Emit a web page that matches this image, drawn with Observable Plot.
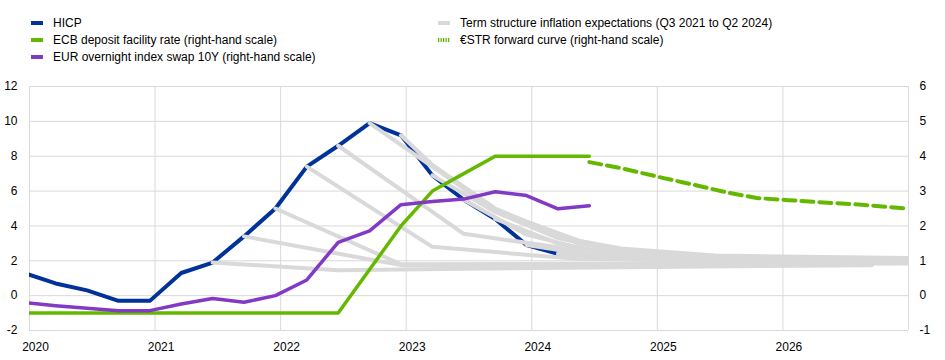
<!DOCTYPE html>
<html>
<head>
<meta charset="utf-8">
<script src="https://cdn.jsdelivr.net/npm/d3@7"></script>
<script src="https://cdn.jsdelivr.net/npm/@observablehq/plot@0.6"></script>
<style>
  html, body { margin: 0; padding: 0; background: #fff; }
  #chart { width: 945px; height: 360px; position: relative; font-family: "Liberation Sans", Arial, sans-serif; }
  #legend { position: relative; height: 70px; font-size: 12px; color: #000; }
  .item { position: absolute; height: 16px; line-height: 16px; white-space: nowrap; }
  .sw { position: absolute; left: 0; top: 6px; width: 12px; height: 4px; }
  .lbl { position: absolute; left: 22px; top: 0; }
  svg { display: block; }
</style>
</head>
<body>
<div id="chart">
  <div id="legend"></div>
</div>
<script>
// ---- data (months as "YYYY-MM", plotted at mid-month) ----
const quarters = ["2019-12","2020-03","2020-06","2020-09","2020-12","2021-03","2021-06","2021-09","2021-12",
  "2022-03","2022-06","2022-09","2022-12","2023-03","2023-06","2023-09","2023-12","2024-03","2024-06"];
const hicp = [1.3, 0.7, 0.3, -0.3, -0.3, 1.3, 1.9, 3.4, 5.0, 7.4, 8.6, 9.9, 9.2, 6.9, 5.5, 4.4, 2.9, 2.4];
const dfr = [-0.5, -0.5, -0.5, -0.5, -0.5, -0.5, -0.5, -0.5, -0.5, -0.5, -0.5, 0.75, 2.0, 3.0, 3.5, 4.0, 4.0, 4.0, 4.0];
const ois10y = [-0.2, -0.29, -0.36, -0.43, -0.43, -0.24, -0.08, -0.19, 0.0, 0.45, 1.53, 1.86, 2.61, 2.70, 2.77, 2.98, 2.87, 2.49, 2.58];

const estrMonths = ["2024-06","2024-09","2025-01","2025-04","2025-07","2025-10","2026-01","2026-04","2026-08","2026-12"];
const estrFwd = [3.83, 3.66, 3.38, 3.18, 2.97, 2.80, 2.74, 2.68, 2.61, 2.51];

// term structure inflation expectations, one small array per survey round
const tQ3_2021 = [["2021-06",1.9],["2022-06",1.45],["2023-06",1.55],["2026-09",1.75]];
const tQ4_2021 = [["2021-09",3.4],["2022-12",1.75],["2027-01",1.85]];
const tQ1_2022 = [["2021-12",5.0],["2022-12",1.8],["2027-01",1.9]];
const tQ2_2022 = [["2022-03",7.4],["2023-03",2.8],["2024-05",2.1],["2027-01",2.0]];
const tQ3_2022 = [["2022-06",8.6],["2023-06",3.55],["2024-05",2.6],["2025-06",2.2],["2027-01",2.1]];
const tQ4_2022 = [["2022-09",9.9],["2023-09",4.9],["2024-05",3.15],["2024-09",2.7],["2025-06",2.3],["2027-01",2.15]];
const tQ1_2023 = [["2022-12",9.2],["2023-03",7.5],["2023-09",5.0],["2024-05",3.0],["2024-09",2.6],["2025-06",2.25],["2027-01",2.1]];
const tQ2_2023 = [["2023-03",6.9],["2023-09",4.8],["2024-03",3.3],["2024-09",2.5],["2025-06",2.2],["2027-01",2.05]];
const tQ3_2023 = [["2023-06",5.5],["2023-12",3.5],["2024-06",2.6],["2025-06",2.15],["2027-01",2.0]];
const tQ4_2023 = [["2023-09",4.4],["2024-03",3.0],["2024-09",2.35],["2025-06",2.1],["2027-01",2.0]];
const tQ1_2024 = [["2023-12",2.9],["2024-06",2.35],["2025-06",2.05],["2027-01",1.95]];
const tQ2_2024 = [["2024-03",2.4],["2024-09",2.1],["2025-06",1.95],["2027-01",1.9]];
const termRounds = [tQ3_2021,tQ4_2021,tQ1_2022,tQ2_2022,tQ3_2022,tQ4_2022,tQ1_2023,tQ2_2023,tQ3_2023,tQ4_2023,tQ1_2024,tQ2_2024];

const yearTicks = [2020, 2021, 2022, 2023, 2024, 2025, 2026];
const leftTicks = [-2, 0, 2, 4, 6, 8, 10, 12];
const rightTickLabels = ["-1", "0", "1", "2", "3", "4", "5", "6"];

const legendItems = [
  {label: "HICP", color: "#003299", col: 0, row: 0},
  {label: "ECB deposit facility rate (right-hand scale)", color: "#65b800", col: 0, row: 1},
  {label: "EUR overnight index swap 10Y (right-hand scale)", color: "#8139c6", col: 0, row: 2},
  {label: "Term structure inflation expectations (Q3 2021 to Q2 2024)", color: "#d9d9d9", col: 1, row: 0},
  {label: "€STR forward curve (right-hand scale)", color: "#65b800", col: 1, row: 1, dotted: true}
];

// ---- helpers ----
const mpos = s => { const [y, m] = s.split("-").map(Number); return y + (m - 0.5) / 12; };
const COL = {hicp: "#003299", green: "#65b800", purple: "#8139c6", grey: "#d9d9d9"};

const hicpData = hicp.map((v, i) => ({x: mpos(quarters[i]), y: v}));
const dfrData = dfr.map((v, i) => ({x: mpos(quarters[i]), y: v * 2}));     // right-hand scale = left/2
const oisData = ois10y.map((v, i) => ({x: mpos(quarters[i]), y: v * 2}));
const estrData = estrFwd.map((v, i) => ({x: mpos(estrMonths[i]), y: v * 2}));
const termData = termRounds.flatMap((arr, k) => arr.map(([m, v]) => ({x: mpos(m), y: v, id: k})));

// ---- legend ----
const legend = document.getElementById("legend");
const colX = [31, 438], rowY = [15, 32, 49];
for (const it of legendItems) {
  const d = document.createElement("div");
  d.className = "item";
  d.style.left = colX[it.col] + "px";
  d.style.top = rowY[it.row] + "px";
  if (it.dotted) {
    d.innerHTML = `<svg class="sw" width="13" height="4" style="position:absolute;left:0;top:6px"><line x1="0" y1="2" x2="13" y2="2" stroke="${it.color}" stroke-width="4" stroke-dasharray="1.3,1.2"/></svg><span class="lbl">${it.label}</span>`;
  } else {
    d.innerHTML = `<span class="sw" style="background:${it.color}"></span><span class="lbl">${it.label}</span>`;
  }
  legend.appendChild(d);
}

// ---- chart ----
const chart = Plot.plot({
  width: 945,
  height: 290,
  marginTop: 16,
  marginBottom: 30,
  marginLeft: 29,
  marginRight: 37,
  style: {fontFamily: "'Liberation Sans', Arial, sans-serif", fontSize: "12px", color: "#000", background: "#fff", overflow: "visible"},
  x: {domain: [2020, 2027], axis: null},
  y: {domain: [-2, 12], axis: null},
  marks: [
    Plot.gridY(leftTicks, {stroke: "#d9d9d9", strokeOpacity: 1, strokeWidth: 1}),
    Plot.gridX(yearTicks.concat([2027]), {stroke: "#d9d9d9", strokeOpacity: 1, strokeWidth: 1}),
    Plot.axisY({ticks: leftTicks, anchor: "left", tickSize: 0, tickPadding: 12, tickFormat: d => String(d), label: null, fill: "#000"}),
    Plot.axisY({ticks: leftTicks, anchor: "right", tickSize: 0, tickPadding: 11, tickFormat: (d, i) => rightTickLabels[leftTicks.indexOf(d)], label: null, textAnchor: "start", fill: "#000"}),
    Plot.axisX({ticks: yearTicks, tickSize: 0, tickPadding: 12, dx: 6, tickFormat: d => String(d), label: null, fill: "#000"}),
    Plot.line(hicpData, {x: "x", y: "y", stroke: COL.hicp, strokeWidth: 4, clip: true}),
    Plot.line(termData, {x: "x", y: "y", z: "id", stroke: COL.grey, strokeWidth: 4, clip: true}),
    Plot.line(dfrData, {x: "x", y: "y", stroke: COL.green, strokeWidth: 3.5, clip: true}),
    Plot.line(oisData, {x: "x", y: "y", stroke: COL.purple, strokeWidth: 3.5, clip: true}),
    Plot.line(estrData, {x: "x", y: "y", stroke: COL.green, strokeWidth: 4, strokeDasharray: "12,6", strokeLinecap: "round", clip: true})
  ]
});
document.getElementById("chart").appendChild(chart);
</script>
</body>
</html>
